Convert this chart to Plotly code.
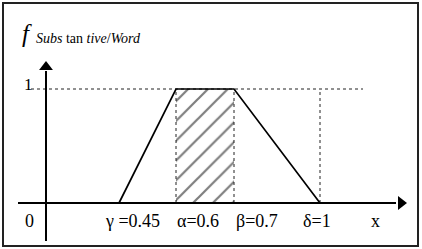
import plotly.graph_objects as go

# ---- data (schematic positions along the sketch axis) ----
break_names = ["γ", "α", "β", "δ"]
break_values = ["0.45", "0.6", "0.7", "1"]
x_sketch = [73, 130, 188, 274]        # where each breakpoint sits on the drawn axis
membership = [0, 1, 1, 0]             # trapezoid membership degree
label_texts = ["0", "γ =0.45", "α=0.6", "β=0.7", "δ=1", "x"]
label_x = [-17, 86, 152, 211, 271, 329]

W, H = 422, 249
X0PIX, Y0PIX, YUNIT = 46, 203, 114


def X(px):
    return px - X0PIX


def Y(py):
    return (Y0PIX - py) / YUNIT


SERIF = "Liberation Serif, Times New Roman, serif"
fig = go.Figure()

gamma, alpha, beta, delta = x_sketch

# hatched core region
fig.add_trace(go.Scatter(
    x=[alpha, beta, beta, alpha, alpha], y=[0, 0, 1, 1, 0],
    mode="lines", fill="toself", fillcolor="white",
    line=dict(width=0, color="rgba(0,0,0,0)"),
    fillpattern=dict(shape="/", fgcolor="black", bgcolor="white", size=14, solidity=0.16),
    hoverinfo="skip", showlegend=False))

# dotted guide lines
dot = dict(color="#222", width=1, dash="dot")
fig.add_trace(go.Scatter(x=[X(31), X(363)], y=[1, 1], mode="lines", line=dot,
                         showlegend=False, hoverinfo="skip"))
for xv in [alpha, beta, delta]:
    fig.add_trace(go.Scatter(x=[xv, xv], y=[0, 1], mode="lines", line=dot,
                             showlegend=False, hoverinfo="skip"))

# membership function
fig.add_trace(go.Scatter(x=x_sketch, y=membership, mode="lines",
                         line=dict(color="black", width=1.7),
                         showlegend=False, hoverinfo="skip"))

# axes
axl = dict(color="black", width=2)
fig.add_trace(go.Scatter(x=[0, 0], y=[Y(241), Y(71)], mode="lines", line=axl,
                         showlegend=False, hoverinfo="skip"))
fig.add_trace(go.Scatter(x=[X(18), X(396)], y=[0, 0], mode="lines", line=axl,
                         showlegend=False, hoverinfo="skip"))
fig.add_trace(go.Scatter(x=[0], y=[Y(67)], mode="markers",
                         marker=dict(symbol="triangle-up", size=12, color="black"),
                         showlegend=False, hoverinfo="skip"))
fig.add_trace(go.Scatter(x=[X(401)], y=[0], mode="markers",
                         marker=dict(symbol="triangle-right", size=12, color="black"),
                         showlegend=False, hoverinfo="skip"))

ann = []
for t, xv in zip(label_texts, label_x):
    ann.append(dict(x=xv, y=Y(221), text=t, showarrow=False, xanchor="center",
                    yanchor="middle", font=dict(family=SERIF, size=18, color="black")))
ann.append(dict(x=X(28), y=Y(84), text="1", showarrow=False, xanchor="center",
                yanchor="middle", font=dict(family=SERIF, size=17, color="black")))
ann.append(dict(x=X(20), y=Y(33), text="<i>f</i>", showarrow=False, xanchor="left",
                yanchor="middle", font=dict(family=SERIF, size=25, color="black")))
ann.append(dict(x=X(34), y=Y(38), text="<i>Subs</i> tan <i>tive</i>/<i>Word</i>",
                showarrow=False, xanchor="left", yanchor="middle",
                font=dict(family=SERIF, size=14, color="black")))

fig.update_layout(
    width=W, height=H, margin=dict(l=0, r=0, t=0, b=0),
    paper_bgcolor="white", plot_bgcolor="white",
    xaxis=dict(range=[X(0), X(W)], visible=False, fixedrange=True),
    yaxis=dict(range=[Y(H), Y(0)], visible=False, fixedrange=True),
    annotations=ann,
    shapes=[dict(type="rect", xref="paper", yref="paper",
                 x0=3 / W, x1=418 / W, y0=1 - 246 / H, y1=1 - 3 / H,
                 line=dict(color="#222", width=2))],
)
fig.write_html("out.html")
